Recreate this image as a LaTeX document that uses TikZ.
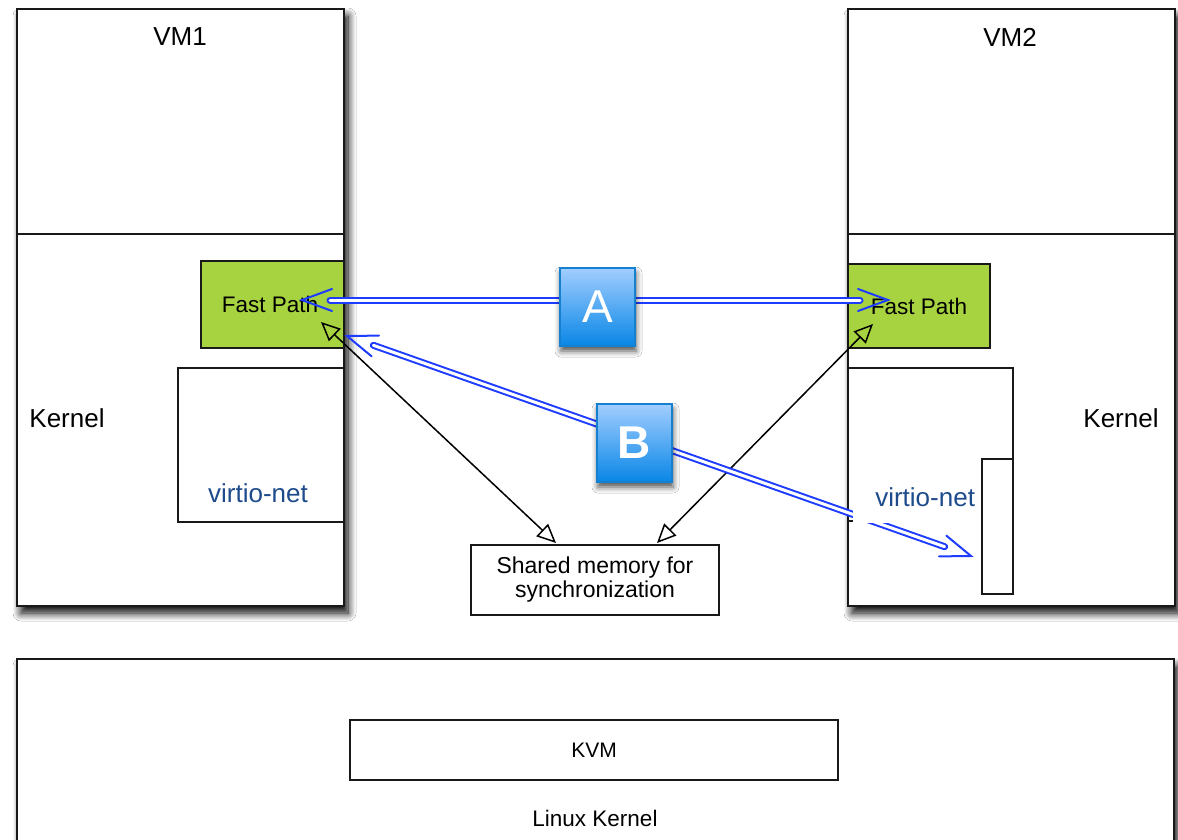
\documentclass[tikz,border=0pt]{standalone}
\usepackage{fontspec}
\setmainfont{Liberation Sans}
\usetikzlibrary{arrows.meta,calc,shadows.blur}

\definecolor{fpgreen}{RGB}{168,211,64}
\definecolor{linkblue}{RGB}{30,60,255}
\definecolor{vnblue}{RGB}{30,75,140}
\definecolor{tagtop}{RGB}{162,206,255}
\definecolor{tagbot}{RGB}{8,134,230}
\definecolor{tagedge}{RGB}{22,128,208}

\newcommand\fsz[1]{\fontsize{#1}{#1}\selectfont}
% open V head of a blue link, tip at #1, pointing away from #2
\newcommand\linkbarb[2]{%
  \draw[linkhead] ($(#1)!30pt!(#2)!11pt!90:(#1)$) -- (#1) -- ($(#1)!30pt!(#2)!11pt!-90:(#1)$);}

\tikzset{
  box/.style={rectangle, draw=black!90, line width=2pt, inner sep=0pt, fill=white},
  softshadow/.style={blur shadow={shadow xshift=4pt, shadow yshift=-7pt,
      shadow blur radius=8pt, shadow blur steps=12, shadow opacity=100}},
  vmbox/.style={box, softshadow, minimum width=327pt, minimum height=597pt},
  fpbox/.style={box, fill=fpgreen, font=\fsz{22.5}},
  plain/.style={inner sep=0pt, font=\fsz{22.5}},
  bigtxt/.style={inner sep=0pt, font=\fsz{26}},
  vntxt/.style={inner sep=0pt, text=vnblue, font=\fsz{26}},
  tag/.style={rectangle, draw=tagedge, line width=1.2pt, top color=tagtop,
      bottom color=tagbot, minimum width=75pt, minimum height=78pt,
      text=white, font=\fsz{46}, inner sep=0pt,
      blur shadow={shadow xshift=1pt, shadow yshift=-5pt, shadow blur radius=6pt, shadow opacity=70}},
  link/.style={draw=linkblue, line width=2pt, double=white, double distance=3pt,
      line cap=round, shorten <=28pt, shorten >=28pt},
  linkhead/.style={draw=linkblue, line width=2pt, line cap=round, line join=miter},
  sync/.style={draw=black, line width=1.5pt,
      {Triangle[open,length=19pt,width=17pt]}-{Triangle[open,length=19pt,width=17pt]}},
}

\begin{document}
\begin{tikzpicture}[x=1pt,y=-1pt]
\clip (0,0) rectangle (1178,840);
\fill[white] (0,0) rectangle (1178,840);

% host
\node[box, softshadow, minimum width=1157pt, minimum height=220pt] (host) at (595.5,769) {};
\node[box, minimum width=488pt, minimum height=60pt, font=\fsz{21}] (kvm) at (594,750) {KVM};
\node[plain] (hostlabel) at (595,818) {Linux Kernel};

% guest VMs
\node[vmbox] (vm1) at (180.5,307.5) {};
\node[vmbox] (vm2) at (1011.5,307.5) {};
\draw[black!90, line width=2pt] (vm1.west |- 0,234) -- (vm1.east |- 0,234);
\draw[black!90, line width=2pt] (vm2.west |- 0,234) -- (vm2.east |- 0,234);
\node[bigtxt] (vm1label) at (180,37) {VM1};
\node[bigtxt] (vm2label) at (1010,37) {VM2};
\node[bigtxt] (k1label) at (67,418) {Kernel};
\node[bigtxt] (k2label) at (1121,418) {Kernel};

% fast path modules
\node[fpbox, minimum width=143pt, minimum height=87pt] (fp1) at (272.5,304.5) {\hspace*{-5pt}Fast Path};
\node[fpbox, minimum width=142pt, minimum height=84pt] (fp2) at (919,306) {\raisebox{-3pt}{Fast Path}};

% virtio-net devices
\node[box, minimum width=166pt, minimum height=154pt] (vn1) at (261,445) {};
\node[vntxt] (vn1label) at (258,493) {virtio-net};
\node[box, minimum width=165pt, minimum height=153pt] (vn2) at (930.5,444.5) {};
\node[box, minimum width=31pt, minimum height=135pt] (vn2q) at (997.5,526.5) {};

% shared memory
\node[box, line width=1.5pt, minimum width=248pt, minimum height=70pt, align=center,
      font=\fsz{23}] (shm) at (595,580) {Shared memory for\\[1pt]synchronization};

% synchronization links
\coordinate (s1a) at (321,322);
\coordinate (s1b) at (556,543);
\coordinate (s2a) at (873,324);
\coordinate (s2b) at (657,543);
\draw[sync] (s1a) -- (s1b);
\draw[sync] (s2a) -- (s2b);

% fast path links
\coordinate (a1) at (302,300);
\coordinate (a2) at (888,300);
\coordinate (b1) at (347,336);
\coordinate (b2) at (971,556);
\draw[link] (a1) -- (a2);
\linkbarb{a1}{a2}
\linkbarb{a2}{a1}
\draw[link] (b1) -- (b2);
\linkbarb{b1}{b2}
\linkbarb{b2}{b1}

% right virtio-net label sits on a white patch
\node[fill=white, inner sep=0pt, minimum width=128pt, minimum height=52pt,
      text width=116pt, align=right, text=vnblue, font=\fsz{26}] (vn2label) at (917,497) {virtio-net};

% path tags
\node[tag] (tagA) at (597.5,307) {A};
\node[tag, font=\fsz{46}\bfseries] (tagB) at (634.5,443) {B};
\end{tikzpicture}
\end{document}
